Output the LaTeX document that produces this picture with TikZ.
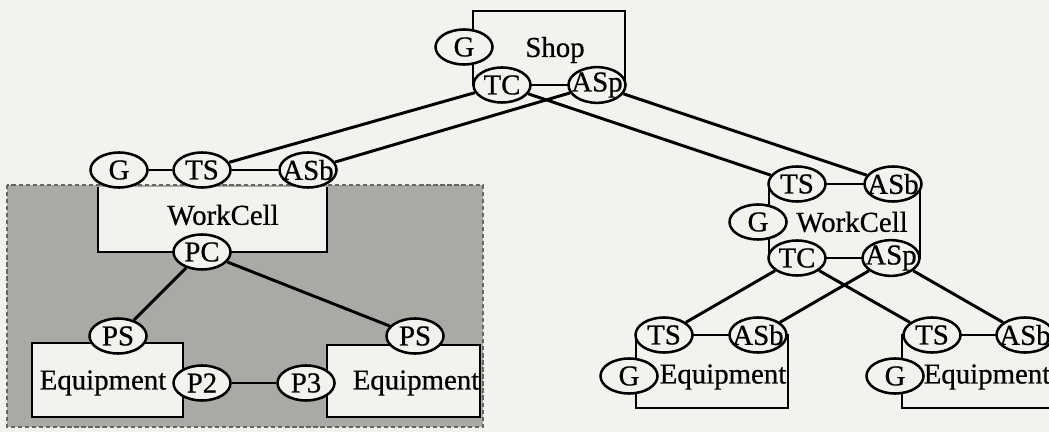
\documentclass[tikz,border=0pt]{standalone}
\usepackage{fontspec}
\setmainfont{Liberation Serif}[FakeBold=0.7]
\usetikzlibrary{shapes.geometric}

\definecolor{paper}{RGB}{243,243,237}
\definecolor{halftone}{RGB}{170,170,165}

\begin{document}
\begin{tikzpicture}[
      x=0.025cm, y=-0.025cm,
      port/.style={ellipse, draw, line width=1.8pt, fill=paper, minimum width=1.425cm, minimum height=0.875cm, inner sep=0pt,
        font=\fontsize{20.5}{21}\selectfont, execute at begin node={\hbox to 0pt\bgroup\hss}, execute at end node={\hss\egroup}},
      unit/.style={line width=1.8pt, fill=paper},
      title/.style={font=\fontsize{20.5}{21}\selectfont, inner sep=0pt},
      link/.style={line width=2.1pt}
    ]
    \fill[paper] (0,0) rectangle (1049,432);
    \useasboundingbox (0,0) rectangle (1049,432);

    \filldraw[fill=halftone, draw=black!60, line width=1.2pt, dash pattern=on 3pt off 2pt] (7,185) rectangle (483,427);

    \filldraw[unit] (473,11) rectangle (625,85);
    \fill[paper] (98,187) rectangle (327,252);
    \draw[unit] (98,187) -- (98,252) -- (327,252) -- (327,187);
    \filldraw[unit] (32,343) rectangle (183,417);
    \filldraw[unit] (327,345) rectangle (480,417);
    \filldraw[unit] (769,184) rectangle (920,258);
    \filldraw[unit] (636,335) rectangle (788,408);
    \filldraw[unit] (902,335) rectangle (1060,408);

    \node[title] (shopname) at (555,50) {Shop};
    \node[port] (shopG) at (464,47) {G};
    \node[port] (shopTC) at (502,85) {TC};
    \node[port] (shopASp) at (597,85) {ASp};

    \node[title] (leftname) at (223,215) {WorkCell};
    \node[port] (leftG) at (119,170) {G};
    \node[port] (leftTS) at (202,170) {TS};
    \node[port] (leftASb) at (308,170) {ASb};
    \node[port] (leftPC) at (202,252) {PC};

    \node[title] (eqaname) at (103,383) {Equipment};
    \node[port] (eqaPS) at (118,336) {PS};
    \node[port] (eqaP2) at (202,383) {P2};

    \node[title] (eqbname) at (416,383) {Equipment};
    \node[port] (eqbPS) at (415,336) {PS};
    \node[port] (eqbP3) at (306,383) {P3};

    \node[title] (rightname) at (852,222) {WorkCell};
    \node[port] (rightTS) at (797,184) {TS};
    \node[port] (rightASb) at (893,184) {ASb};
    \node[port] (rightG) at (758,222) {G};
    \node[port] (rightTC) at (797,258) {TC};
    \node[port] (rightASp) at (891,258) {ASp};

    \node[title] (eqcname) at (723,377) {Equipment};
    \node[port] (eqcTS) at (664,335) {TS};
    \node[port] (eqcASb) at (758,335) {ASb};
    \node[port] (eqcG) at (629,376) {G};

    \node[title] (eqdname) at (987,377) {Equipment};
    \node[port] (eqdTS) at (932,335) {TS};
    \node[port] (eqdASb) at (1025,335) {ASb};
    \node[port] (eqdG) at (895,376) {G};

    \draw[link] (shopTC) -- (shopASp);
    \draw[link] (shopTC) -- (leftTS);
    \draw[link] (shopASp) -- (leftASb);
    \draw[link] (shopTC) -- (rightTS);
    \draw[link] (shopASp) -- (rightASb);

    \draw[link] (leftG) -- (leftTS);
    \draw[link] (leftTS) -- (leftASb);
    \draw[link] (leftPC) -- (eqaPS);
    \draw[link] (leftPC) -- (eqbPS);
    \draw[link] (eqaP2) -- (eqbP3);

    \draw[link] (rightTS) -- (rightASb);
    \draw[link] (rightTC) -- (rightASp);
    \draw[link] (rightTC) -- (eqcTS);
    \draw[link] (rightASp) -- (eqcASb);
    \draw[link] (rightTC) -- (eqdTS);
    \draw[link] (rightASp) -- (eqdASb);

    \draw[link] (eqcTS) -- (eqcASb);
    \draw[link] (eqdTS) -- (eqdASb);
  \end{tikzpicture}
\end{document}
